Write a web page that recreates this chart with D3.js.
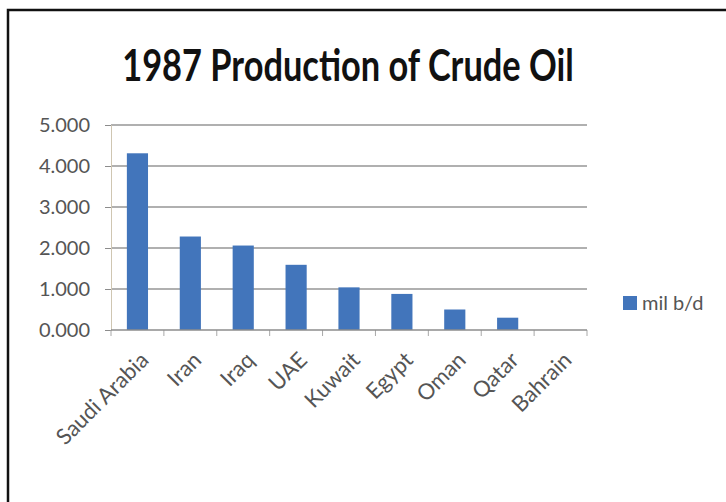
<!DOCTYPE html>
<html>
<head>
<meta charset="utf-8">
<title>1987 Production of Crude Oil</title>
<script src="https://d3js.org/d3.v7.min.js"></script>
<style>
  body { margin: 0; background: #fff; }
  text { font-family: Lato, "Open Sans", sans-serif; }
  .tick text { fill: #555; font-size: 20px; }
</style>
</head>
<body>
<svg width="726" height="502"></svg>
<script>
var countries = ["Saudi Arabia", "Iran", "Iraq", "UAE", "Kuwait", "Egypt", "Oman", "Qatar", "Bahrain"];
var production = [4.31, 2.28, 2.06, 1.59, 1.04, 0.88, 0.50, 0.30, 0.0];
var yTicks = [0, 1, 2, 3, 4, 5];
var seriesName = "mil b/d";

var svg = d3.select("svg");

// frame (only top and left edges show in the picture)
svg.append("path")
  .attr("d", "M8,502V10H726")
  .attr("fill", "none")
  .attr("stroke", "#111")
  .attr("stroke-width", 2.5);

var plotLeft = 111, plotRight = 587, plotTop = 125, plotBottom = 330;

var x = d3.scaleBand()
  .domain(countries)
  .range([plotLeft, plotRight])
  .paddingInner(0.6)
  .paddingOuter(0.3);

var y = d3.scaleLinear()
  .domain([0, 5])
  .range([plotBottom, plotTop]);

// gridlines
svg.append("g")
  .selectAll("line")
  .data(yTicks.slice(1))
  .enter()
  .append("line")
  .attr("x1", plotLeft)
  .attr("x2", plotRight)
  .attr("y1", function(d) { return y(d); })
  .attr("y2", function(d) { return y(d); })
  .attr("stroke", "#969696")
  .attr("stroke-width", 1.5);

// y axis
var yAxis = svg.append("g")
  .attr("transform", "translate(" + plotLeft + ",0)")
  .call(d3.axisLeft(y).tickValues(yTicks).tickSize(6).tickPadding(15)
    .tickFormat(d3.format(".3f")));
yAxis.select(".domain").attr("stroke", "#cfc6b2");
yAxis.selectAll(".tick line").attr("stroke", "#8c8c8c");

// x axis ticks sit on the category boundaries
var bounds = countries.map(function(c) { return x(c) - x.step() * x.paddingInner() / 2; });
bounds.push(plotRight);
svg.append("g")
  .selectAll("line")
  .data(bounds)
  .enter()
  .append("line")
  .attr("x1", function(d) { return d; })
  .attr("x2", function(d) { return d; })
  .attr("y1", plotBottom)
  .attr("y2", plotBottom + 6)
  .attr("stroke", "#a8a8a8");

// bars
svg.append("g")
  .selectAll("rect")
  .data(countries)
  .enter()
  .append("rect")
  .attr("x", function(d) { return x(d); })
  .attr("width", x.bandwidth())
  .attr("y", function(d, i) { return y(production[i]); })
  .attr("height", function(d, i) { return plotBottom - y(production[i]); })
  .attr("fill", "#4275bb");

svg.append("line")
  .attr("x1", plotLeft).attr("x2", plotRight)
  .attr("y1", plotBottom).attr("y2", plotBottom)
  .attr("stroke", "#8c8c8c")
  .attr("stroke-width", 1.5);

// category labels, rotated
svg.append("g")
  .selectAll("text")
  .data(countries)
  .enter()
  .append("text")
  .attr("transform", function(d) {
    return "translate(" + (x(d) + x.bandwidth() / 2 + 7) + "," + (plotBottom + 26) + ") rotate(-45)";
  })
  .attr("text-anchor", "end")
  .attr("dy", "0.35em")
  .attr("font-size", 22)
  .attr("fill", "#555")
  .text(function(d) { return d; });

// title (condensed to look like the original's narrow face)
svg.append("text")
  .attr("transform", "translate(348,81) scale(0.8,1)")
  .attr("text-anchor", "middle")
  .attr("font-size", 43)
  .attr("font-weight", "bold")
  .attr("fill", "#111")
  .text("1987 Production of Crude Oil");

// legend
svg.append("rect")
  .attr("x", 623).attr("y", 296)
  .attr("width", 14).attr("height", 14)
  .attr("fill", "#4275bb");
svg.append("text")
  .attr("x", 642).attr("y", 310)
  .attr("font-size", 20)
  .attr("fill", "#555")
  .text(seriesName);
</script>
</body>
</html>
